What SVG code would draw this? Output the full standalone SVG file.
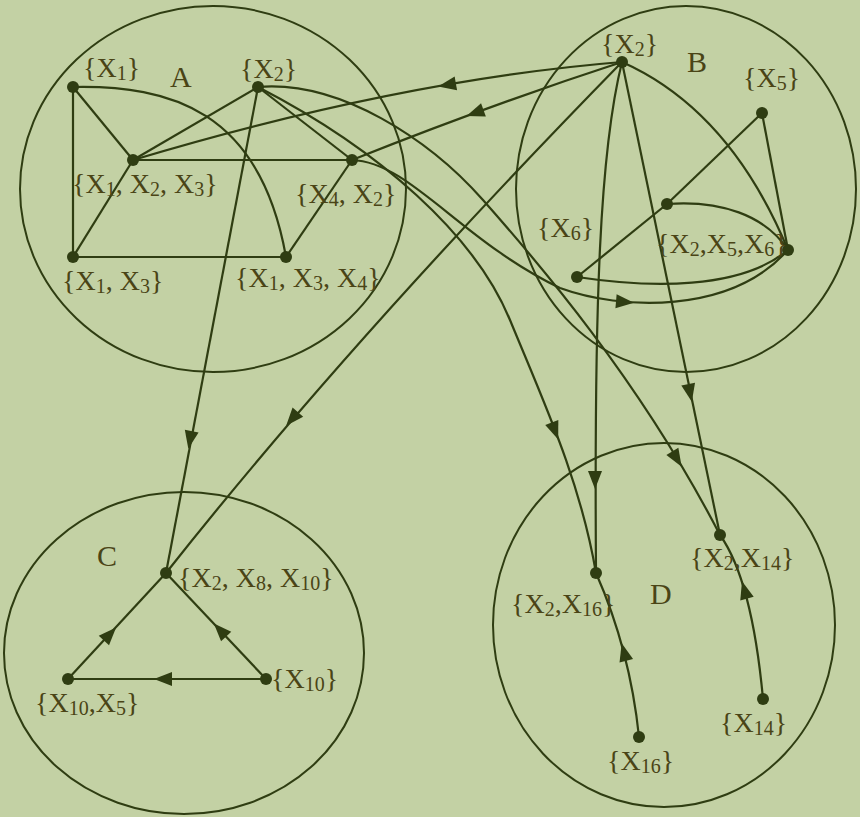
<svg xmlns="http://www.w3.org/2000/svg" width="860" height="817" viewBox="0 0 860 817">
<style>
.ring{fill:none;stroke:#2f3d12;stroke-width:2}
.e{fill:none;stroke:#2f3d12;stroke-width:2.2}
.n{fill:#2f3d12}
.t{font-family:"Liberation Serif","Times New Roman",serif;font-size:28px;fill:#4a4416}
.s{font-size:20px}
.big{font-size:30px}
</style>
<defs><path id="ah" d="M9,0 L-9,-7 L-9,7 Z" fill="#2f3d12"/></defs>
<rect width="860" height="817" fill="#c3d1a4"/>

<g id="cluster-A"><ellipse class="ring" cx="213" cy="189" rx="193" ry="183"/><text class="t big" x="170" y="87">A</text></g>
<g id="cluster-B"><ellipse class="ring" cx="686" cy="189" rx="170" ry="183"/><text class="t big" x="687" y="72">B</text></g>
<g id="cluster-C"><ellipse class="ring" cx="184" cy="653" rx="180" ry="161"/><text class="t big" x="97" y="566">C</text></g>
<g id="cluster-D"><ellipse class="ring" cx="664" cy="625" rx="171" ry="182"/><text class="t big" x="650" y="604">D</text></g>

<g id="connectors">
<path class="e" d="M73,87 L73,257"/>
<path class="e" d="M73,87 L133,160"/>
<path class="e" d="M73,87 C170,85 260,110 286,257"/>
<path class="e" d="M133,160 L73,257"/>
<path class="e" d="M73,257 L286,257"/>
<path class="e" d="M133,160 L352,160"/>
<path class="e" d="M352,160 L286,257"/>
<path class="e" d="M258,87 L133,160"/>
<path class="e" d="M258,87 L352,160"/>

<path class="e" d="M622,62 Q400,80 133,160"/>
<use href="#ah" transform="translate(447,85) rotate(170)"/>
<path class="e" d="M622,62 Q490,105 352,160"/>
<use href="#ah" transform="translate(475,113) rotate(160)"/>
<path class="e" d="M258,87 L166,573"/>
<use href="#ah" transform="translate(190,440) rotate(100.85)"/>
<path class="e" d="M622,62 Q350,340 166,573"/>
<use href="#ah" transform="translate(292,419) rotate(130.8)"/>
<path class="e" d="M258,87 C380,150 475,235 510,320 C545,405 580,480 596,573"/>
<use href="#ah" transform="translate(555,431) rotate(69)"/>
<path class="e" d="M258,87 C340,80 430,140 483,200 C536,260 640,380 720,535"/>
<use href="#ah" transform="translate(677,459) rotate(59)"/>
<path class="e" d="M352,160 C410,162 460,240 560,288 C620,310 730,315 788,250"/>
<use href="#ah" transform="translate(625,302) rotate(5)"/>
<path class="e" d="M622,62 C600,150 594,300 596,573"/>
<use href="#ah" transform="translate(595,480) rotate(90)"/>
<path class="e" d="M622,62 L720,535"/>
<use href="#ah" transform="translate(690,393) rotate(78.3)"/>

<path class="e" d="M622,62 Q730,110 788,250"/>
<path class="e" d="M762,113 L667,204"/>
<path class="e" d="M667,204 L577,277"/>
<path class="e" d="M762,113 L788,250"/>
<path class="e" d="M667,204 C720,200 765,215 788,250"/>
<path class="e" d="M577,277 C650,288 740,290 788,250"/>

<path class="e" d="M68,679 L166,573"/>
<use href="#ah" transform="translate(110,634) rotate(-47.2)"/>
<path class="e" d="M266,679 L166,573"/>
<use href="#ah" transform="translate(220,630) rotate(-133.3)"/>
<path class="e" d="M266,679 L68,679"/>
<use href="#ah" transform="translate(163,679) rotate(180)"/>

<path class="e" d="M639,737 Q630,650 596,573"/>
<use href="#ah" transform="translate(624,652) rotate(-104.7)"/>
<path class="e" d="M763,699 Q752,580 720,535"/>
<use href="#ah" transform="translate(744.5,590) rotate(-106)"/>
</g>

<g id="A-x1"><circle class="n" cx="73" cy="87" r="6"/><text class="t" x="83" y="77">{X<tspan class="s" dy="3">1</tspan><tspan dy="-3">}</tspan></text></g>
<g id="A-x2"><circle class="n" cx="258" cy="87" r="6"/><text class="t" x="240" y="78">{X<tspan class="s" dy="3">2</tspan><tspan dy="-3">}</tspan></text></g>
<g id="A-x1x2x3"><circle class="n" cx="133" cy="160" r="6"/><text class="t" x="72" y="193">{X<tspan class="s" dy="3">1</tspan><tspan dy="-3">, X</tspan><tspan class="s" dy="3">2</tspan><tspan dy="-3">, X</tspan><tspan class="s" dy="3">3</tspan><tspan dy="-3">}</tspan></text></g>
<g id="A-x4x2"><circle class="n" cx="352" cy="160" r="6"/><text class="t" x="295" y="203">{X<tspan class="s" dy="3">4</tspan><tspan dy="-3">, X</tspan><tspan class="s" dy="3">2</tspan><tspan dy="-3">}</tspan></text></g>
<g id="A-x1x3"><circle class="n" cx="73" cy="257" r="6"/><text class="t" x="62" y="290">{X<tspan class="s" dy="3">1</tspan><tspan dy="-3">, X</tspan><tspan class="s" dy="3">3</tspan><tspan dy="-3">}</tspan></text></g>
<g id="A-x1x3x4"><circle class="n" cx="286" cy="257" r="6"/><text class="t" x="235" y="287">{X<tspan class="s" dy="3">1</tspan><tspan dy="-3">, X</tspan><tspan class="s" dy="3">3</tspan><tspan dy="-3">, X</tspan><tspan class="s" dy="3">4</tspan><tspan dy="-3">}</tspan></text></g>

<g id="B-x2"><circle class="n" cx="622" cy="62" r="6"/><text class="t" x="601" y="53">{X<tspan class="s" dy="3">2</tspan><tspan dy="-3">}</tspan></text></g>
<g id="B-x5"><circle class="n" cx="762" cy="113" r="6"/><text class="t" x="743" y="87">{X<tspan class="s" dy="3">5</tspan><tspan dy="-3">}</tspan></text></g>
<g id="B-mid"><circle class="n" cx="667" cy="204" r="6"/></g>
<g id="B-x2x5x6"><circle class="n" cx="788" cy="250" r="6"/><text class="t" x="656" y="253">{X<tspan class="s" dy="3">2</tspan><tspan dy="-3">,X</tspan><tspan class="s" dy="3">5</tspan><tspan dy="-3">,X</tspan><tspan class="s" dy="3">6</tspan><tspan dy="-3">}</tspan></text></g>
<g id="B-x6"><circle class="n" cx="577" cy="277" r="6"/><text class="t" x="537" y="237">{X<tspan class="s" dy="3">6</tspan><tspan dy="-3">}</tspan></text></g>

<g id="C-x2x8x10"><circle class="n" cx="166" cy="573" r="6"/><text class="t" x="178" y="587">{X<tspan class="s" dy="3">2</tspan><tspan dy="-3">, X</tspan><tspan class="s" dy="3">8</tspan><tspan dy="-3">, X</tspan><tspan class="s" dy="3">10</tspan><tspan dy="-3">}</tspan></text></g>
<g id="C-x10x5"><circle class="n" cx="68" cy="679" r="6"/><text class="t" x="35" y="712">{X<tspan class="s" dy="3">10</tspan><tspan dy="-3">,X</tspan><tspan class="s" dy="3">5</tspan><tspan dy="-3">}</tspan></text></g>
<g id="C-x10"><circle class="n" cx="266" cy="679" r="6"/><text class="t" x="271" y="688">{X<tspan class="s" dy="3">10</tspan><tspan dy="-3">}</tspan></text></g>

<g id="D-x2x16"><circle class="n" cx="596" cy="573" r="6"/><text class="t" x="511" y="613">{X<tspan class="s" dy="3">2</tspan><tspan dy="-3">,X</tspan><tspan class="s" dy="3">16</tspan><tspan dy="-3">}</tspan></text></g>
<g id="D-x2x14"><circle class="n" cx="720" cy="535" r="6"/><text class="t" x="690" y="567">{X<tspan class="s" dy="3">2</tspan><tspan dy="-3">,X</tspan><tspan class="s" dy="3">14</tspan><tspan dy="-3">}</tspan></text></g>
<g id="D-x16"><circle class="n" cx="639" cy="737" r="6"/><text class="t" x="607" y="770">{X<tspan class="s" dy="3">16</tspan><tspan dy="-3">}</tspan></text></g>
<g id="D-x14"><circle class="n" cx="763" cy="699" r="6"/><text class="t" x="720" y="732">{X<tspan class="s" dy="3">14</tspan><tspan dy="-3">}</tspan></text></g>
</svg>
